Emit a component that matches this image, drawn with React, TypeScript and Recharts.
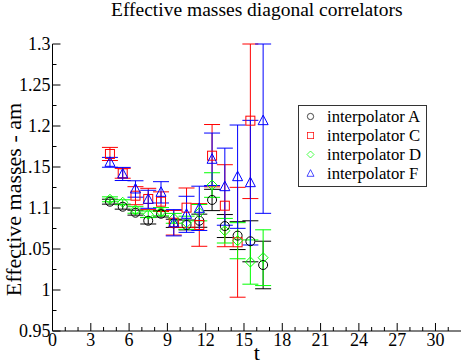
import React from 'react';
import { ScatterChart, Scatter, XAxis, YAxis, ErrorBar } from 'recharts';

const T = [4.5, 5.5, 6.5, 7.5, 8.5, 9.5, 10.5, 11.5, 12.5, 13.5, 14.5, 15.5, 16.5];

const massA = [1.1077, 1.1016, 1.0943, 1.0845, 1.093, 1.0813, 1.0793, 1.0845, 1.1098, 1.078, 1.0663, 1.0594, 1.0305];
const errA = [0.003, 0.003, 0.003, 0.004, 0.004, 0.005, 0.006, 0.008, 0.013, 0.014, 0.017, 0.025, 0.029];

const massC = [1.1659, 1.1423, 1.115, 1.111, 1.1077, 1.082, 1.1004, 1.0793, 1.1638, 1.1028, 1.0582, 1.2065];
const errC = [0.008, 0.006, 0.011, 0.013, 0.012, 0.015, 0.024, 0.026, 0.038, 0.05, 0.067, 0.095];

const massD = [1.1106, 1.107, 1.0976, 1.0923, 1.0955, 1.0874, 1.082, 1.0943, 1.128, 1.0723, 1.0601, 1.0341, 1.0394];
const errD = [0.003, 0.003, 0.004, 0.004, 0.005, 0.006, 0.008, 0.01, 0.015, 0.015, 0.022, 0.027, 0.034];

const massF = [1.1557, 1.1415, 1.1232, 1.1106, 1.1191, 1.082, 1.0923, 1.0996, 1.1594, 1.126, 1.1382, 1.1309, 1.2065];
const errF = [0.006, 0.008, 0.01, 0.011, 0.013, 0.016, 0.022, 0.027, 0.032, 0.047, 0.063, 0.076, 0.113];

const X_MAJOR = [0, 3, 6, 9, 12, 15, 18, 21, 24, 27, 30];
const X_MINOR = [1, 2, 4, 5, 7, 8, 10, 11, 13, 14, 16, 17, 19, 20, 22, 23, 25, 26, 28, 29, 31];
const Y_MAJOR = [0.95, 1, 1.05, 1.1, 1.15, 1.2, 1.25, 1.3];
const Y_MINOR = [0.975, 1.025, 1.075, 1.125, 1.175, 1.225, 1.275];

const X_TICKS = [...X_MAJOR, ...X_MINOR].sort((a, b) => a - b);
const Y_TICKS = [...Y_MAJOR, ...Y_MINOR].sort((a, b) => a - b);
const Y_MAX = 1.3;

const FONT = '"Liberation Serif", "DejaVu Serif", serif';

const toPoints = (mass: number[], err: number[]) => mass.map((m, i) => ({ t: T[i], m, e: err[i] }));

// error bars are cut at the top of the frame, like the original plot
const errRange = (d: any) => [d.e, Math.min(d.e, Y_MAX - d.m)];

const Circle = ({ cx, cy, color }: any) => <circle cx={cx} cy={cy} r={4.5} fill="none" stroke={color} strokeWidth={1} />;
const Square = ({ cx, cy, color }: any) => <rect x={cx - 4.5} y={cy - 4.5} width={9} height={9} fill="none" stroke={color} strokeWidth={1} />;
const Diamond = ({ cx, cy, color }: any) => (
    <polygon points={`${cx},${cy - 5} ${cx + 5},${cy} ${cx},${cy + 5} ${cx - 5},${cy}`} fill="none" stroke={color} strokeWidth={1} />
);
const Triangle = ({ cx, cy, color }: any) => (
    <polygon points={`${cx},${cy - 5.5} ${cx + 5},${cy + 4} ${cx - 5},${cy + 4}`} fill="none" stroke={color} strokeWidth={1} />
);

const SERIES = [
    { name: 'interpolator A', color: '#000000', data: toPoints(massA, errA), shape: Circle },
    { name: 'interpolator C', color: '#ff0000', data: toPoints(massC, errC), shape: Square },
    { name: 'interpolator D', color: '#00ff00', data: toPoints(massD, errD), shape: Diamond },
    { name: 'interpolator F', color: '#0000ff', data: toPoints(massF, errF), shape: Triangle },
];

const BottomTick = ({ x, y, payload }: any) => {
    const major = X_MAJOR.includes(payload.value);
    return (
        <g>
            <line x1={x} x2={x} y1={y} y2={y - (major ? 8 : 4)} stroke="#000" />
            {major && (
                <text x={x} y={y + 15} textAnchor="middle" fontFamily={FONT} fontSize={18} fill="#000">
                    {payload.value}
                </text>
            )}
        </g>
    );
};

const TopTick = ({ x, y, payload }: any) => {
    const major = X_MAJOR.includes(payload.value);
    return <line x1={x} x2={x} y1={y} y2={y + (major ? 8 : 4)} stroke="#000" />;
};

const LeftTick = ({ x, y, payload }: any) => {
    const major = Y_MAJOR.includes(payload.value);
    return (
        <g>
            <line x1={x} x2={x + (major ? 8 : 4)} y1={y} y2={y} stroke="#000" />
            {major && (
                <text x={x - 2} y={y + 6} textAnchor="end" fontFamily={FONT} fontSize={18} fill="#000">
                    {payload.value}
                </text>
            )}
        </g>
    );
};

const RightTick = ({ x, y, payload }: any) => {
    const major = Y_MAJOR.includes(payload.value);
    return <line x1={x} x2={x - (major ? 8 : 4)} y1={y} y2={y} stroke="#000" />;
};

const YLabel = ({ viewBox }: any) => {
    const cy = viewBox.y + viewBox.height / 2 + 12;
    return (
        <text x={13} y={cy} transform={`rotate(-90 13 ${cy})`} textAnchor="middle" dominantBaseline="central" fontFamily={FONT} fontSize={22} fill="#000">
            Effective masses - am
        </text>
    );
};

const XLabel = ({ viewBox }: any) => (
    <text x={viewBox.x + viewBox.width / 2} y={viewBox.y + 29} textAnchor="middle" fontFamily={FONT} fontSize={22} fill="#000">
        t
    </text>
);

const LegendBox = () => (
    <div
        style={{
            position: 'absolute',
            left: 298,
            top: 105,
            width: 127,
            border: '1px solid #333',
            background: '#fff',
            padding: '1px 0 3px 0',
            fontFamily: FONT,
            fontSize: 16.7,
            lineHeight: '19px',
        }}
    >
        {SERIES.map((s) => {
            const Shape = s.shape;
            return (
                <div key={s.name} style={{ display: 'flex', alignItems: 'center', height: 19 }}>
                    <svg width={28} height={19} style={{ flexShrink: 0 }}>
                        <g transform="translate(11.5,9.5) scale(0.7) translate(-11.5,-9.5)">
                            <Shape cx={11.5} cy={9.5} color={s.color} />
                        </g>
                    </svg>
                    <span>{s.name}</span>
                </div>
            );
        })}
    </div>
);

export default function App() {
    return (
        <div style={{ position: 'absolute', left: 0, top: 0, width: 463, height: 364, background: '#fff' }}>
            <div
                style={{
                    position: 'absolute',
                    left: 52.5,
                    width: 408.5,
                    top: 0,
                    textAlign: 'center',
                    fontFamily: FONT,
                    fontSize: 19.5,
                    lineHeight: '19px',
                }}
            >
                Effective masses diagonal correlators
            </div>
            <ScatterChart width={463} height={364} margin={{ top: 44, right: 2, bottom: 0, left: 0 }}>
                <XAxis
                    dataKey="t"
                    type="number"
                    domain={[0, 32]}
                    allowDataOverflow
                    ticks={X_TICKS}
                    interval={0}
                    height={33}
                    tickSize={0}
                    tickMargin={0}
                    tickLine={false}
                    tick={<BottomTick />}
                    axisLine={{ stroke: '#000' }}
                    label={<XLabel />}
                />
                <XAxis
                    xAxisId="top"
                    orientation="top"
                    type="number"
                    domain={[0, 32]}
                    allowDataOverflow
                    ticks={X_TICKS}
                    interval={0}
                    height={0}
                    tickSize={0}
                    tickMargin={0}
                    tickLine={false}
                    tick={<TopTick />}
                    axisLine={{ stroke: '#000' }}
                />
                <YAxis
                    dataKey="m"
                    type="number"
                    domain={[0.95, Y_MAX]}
                    allowDataOverflow
                    ticks={Y_TICKS}
                    interval={0}
                    width={52.5}
                    tickSize={0}
                    tickMargin={0}
                    tickLine={false}
                    tick={<LeftTick />}
                    axisLine={{ stroke: '#000' }}
                    label={<YLabel />}
                />
                <YAxis
                    yAxisId="right"
                    orientation="right"
                    type="number"
                    domain={[0.95, Y_MAX]}
                    allowDataOverflow
                    ticks={Y_TICKS}
                    interval={0}
                    width={0}
                    tickSize={0}
                    tickMargin={0}
                    tickLine={false}
                    tick={<RightTick />}
                    axisLine={{ stroke: '#000' }}
                />
                {SERIES.map((s) => {
                    const Shape = s.shape;
                    return (
                        <Scatter
                            key={s.name}
                            name={s.name}
                            data={s.data}
                            fill={s.color}
                            shape={(p: any) => <Shape cx={p.cx} cy={p.cy} color={s.color} />}
                            isAnimationActive={false}
                        >
                            <ErrorBar dataKey={errRange} direction="y" width={8} stroke={s.color} strokeWidth={1} isAnimationActive={false} />
                        </Scatter>
                    );
                })}
            </ScatterChart>
            <LegendBox />
        </div>
    );
}
